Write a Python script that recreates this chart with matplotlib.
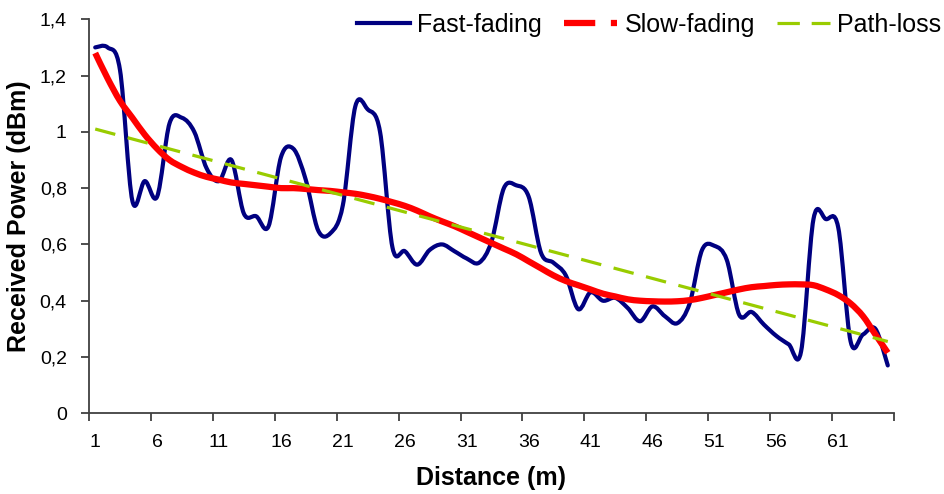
import numpy as np
import matplotlib
matplotlib.use("Agg")
import matplotlib.pyplot as plt
from matplotlib.path import Path
from matplotlib.patches import PathPatch
from matplotlib.lines import Line2D
from matplotlib.ticker import FuncFormatter

plt.rcParams['font.family'] = ['Liberation Sans', 'DejaVu Sans']

# distance categories 1..65 (m)
distance = list(range(1, 66))

fast_fading = [1.30, 1.30, 1.22, 0.755, 0.825, 0.77, 1.03, 1.05, 1.00, 0.87,
               0.825, 0.90, 0.71, 0.70, 0.665, 0.91, 0.94, 0.83, 0.65, 0.64,
               0.74, 1.09, 1.08, 1.00, 0.59, 0.576, 0.528, 0.58, 0.60, 0.576,
               0.55, 0.535, 0.61, 0.80, 0.81, 0.77, 0.57, 0.535, 0.49, 0.37,
               0.43, 0.40, 0.41, 0.374, 0.327, 0.38, 0.345, 0.32, 0.39, 0.58,
               0.595, 0.545, 0.35, 0.36, 0.315, 0.275, 0.245, 0.22, 0.69, 0.69,
               0.66, 0.255, 0.28, 0.30, 0.17]

slow_fading = [1.28, 1.19, 1.11, 1.05, 0.99, 0.94, 0.90, 0.875, 0.855, 0.84,
               0.83, 0.82, 0.815, 0.81, 0.805, 0.80, 0.80, 0.797, 0.793, 0.79,
               0.785, 0.78, 0.772, 0.762, 0.75, 0.737, 0.72, 0.70, 0.682, 0.665,
               0.645, 0.625, 0.605, 0.585, 0.565, 0.54, 0.515, 0.49, 0.47, 0.455,
               0.44, 0.425, 0.415, 0.405, 0.40, 0.398, 0.397, 0.398, 0.402, 0.41,
               0.42, 0.43, 0.44, 0.448, 0.452, 0.456, 0.458, 0.458, 0.455, 0.44,
               0.42, 0.39, 0.345, 0.28, 0.215]

path_loss_x = [1, 65]
path_loss = [1.01, 0.255]

xtick_labels = [1, 6, 11, 16, 21, 26, 31, 36, 41, 46, 51, 56, 61]


# smoothed line like the excel "smoothed line" option (bezier through the points)
def smooth_path(xs, ys):
    pts = np.column_stack([xs, ys]).astype(float)
    n = len(pts)
    verts = [pts[0]]
    codes = [Path.MOVETO]
    for i in range(n - 1):
        p0 = pts[max(i - 1, 0)]
        p1 = pts[i]
        p2 = pts[i + 1]
        p3 = pts[min(i + 2, n - 1)]
        verts += [p1 + (p2 - p0) / 6, p2 - (p3 - p1) / 6, p2]
        codes += [Path.CURVE4] * 3
    return Path(verts, codes)


fig = plt.figure(figsize=(9.45, 4.94), dpi=100)
ax = fig.add_axes([0.0942, 0.1634, 0.8518, 0.7976])

blue = '#000080'
red = '#ff0000'
green = '#99cc00'

ax.add_patch(PathPatch(smooth_path(distance, fast_fading), fill=False, ec=blue,
                       lw=3.0, capstyle='round', joinstyle='round', zorder=2))
ax.add_patch(PathPatch(smooth_path(distance, slow_fading), fill=False, ec=red,
                       lw=4.5, capstyle='butt', joinstyle='round', zorder=3))
ax.plot(path_loss_x, path_loss, color=green, lw=2.3, dashes=(6.5, 4), zorder=4)

ax.set_xlim(0.5, 65.5)
ax.set_ylim(0, 1.4)

# tick marks between categories, labels at category centres
ax.set_xticks(np.arange(0.5, 66, 5))
ax.set_xticklabels([])
ax.set_xticks(xtick_labels, minor=True)
ax.set_xticklabels([str(v) for v in xtick_labels], minor=True)
ax.tick_params(axis='x', which='major', length=6, width=1.3, color='#404040', direction='out')
ax.tick_params(axis='x', which='minor', length=0, pad=15, labelsize=14)

ax.set_yticks(np.arange(0, 1.41, 0.2))
ax.yaxis.set_major_formatter(FuncFormatter(lambda v, p: ('%g' % round(v, 2)).replace('.', ',')))
ax.tick_params(axis='y', length=6, width=1.3, color='#404040', direction='out', pad=10, labelsize=14)

for s in ['top', 'right']:
    ax.spines[s].set_visible(False)
for s in ['left', 'bottom']:
    ax.spines[s].set_color('#404040')
    ax.spines[s].set_linewidth(1.3)

ax.set_xlabel('Distance (m)', fontsize=18, fontweight='bold', labelpad=11)
ax.set_ylabel('Received Power (dBm)', fontsize=18, fontweight='bold', labelpad=6)

handles = [Line2D([], [], color=blue, lw=3.0),
           Line2D([], [], color=red, lw=4.5, dashes=(5, 2.5, 1, 2.5)),
           Line2D([], [], color=green, lw=2.3, dashes=(7, 3.7))]
fig.legend(handles, ['Fast-fading', 'Slow-fading', 'Path-loss'], loc='upper right',
           bbox_to_anchor=(1.02, 1.02), ncol=3, frameon=False, fontsize=18,
           handlelength=2.1, handletextpad=0.3, columnspacing=0.9)

fig.savefig('out.png', dpi=100)
